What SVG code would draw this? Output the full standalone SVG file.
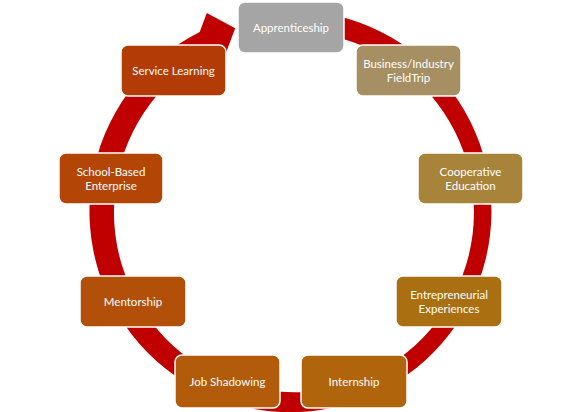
<svg xmlns="http://www.w3.org/2000/svg" width="582" height="412" viewBox="0 0 582 412">
<style>
.box{stroke:#ffffff;stroke-width:1.5}
.lbl{font-family:Lato,"Liberation Sans",sans-serif;font-size:11.5px;fill:#ffffff;text-anchor:middle}
</style>
<rect width="582" height="412" fill="#ffffff"/>
<g id="connectors">
<path d="M 324.2 13.1 A 201 201 0 1 1 199.7 31.9 L 206.8 12.9 L 235.2 28.3 L 223.9 58.4 L 214.8 50.6 A 180 180 0 1 0 322.3 34.5 Z" fill="#c00000"/>
</g>
<g id="n1"><rect class="box" x="238" y="2" width="106" height="51" rx="7" fill="#a5a5a5"/><text class="lbl" x="291" y="32">Apprenticeship</text></g>
<g id="n2"><rect class="box" x="356" y="45" width="105" height="51" rx="7" fill="#a68f63"/><text class="lbl" x="408.5" y="68">Business/Industry</text><text class="lbl" x="408.5" y="82">FieldTrip</text></g>
<g id="n3"><rect class="box" x="418" y="153" width="105" height="51" rx="7" fill="#a8833a"/><text class="lbl" x="470.5" y="176">Cooperative</text><text class="lbl" x="470.5" y="190">Education</text></g>
<g id="n4"><rect class="box" x="396" y="276" width="106" height="51" rx="7" fill="#a96f11"/><text class="lbl" x="449" y="299">Entrepreneurial</text><text class="lbl" x="449" y="313">Experiences</text></g>
<g id="n5"><rect class="box" x="301" y="355" width="106" height="53" rx="7" fill="#b0650c"/><text class="lbl" x="354" y="386">Internship</text></g>
<g id="n6"><rect class="box" x="175" y="355" width="105" height="53" rx="7" fill="#b25b0a"/><text class="lbl" x="227.5" y="386">Job Shadowing</text></g>
<g id="n7"><rect class="box" x="80" y="276" width="106" height="51" rx="7" fill="#b24f09"/><text class="lbl" x="133" y="306">Mentorship</text></g>
<g id="n8"><rect class="box" x="59" y="153" width="104" height="51" rx="7" fill="#b34507"/><text class="lbl" x="111" y="176">School-Based</text><text class="lbl" x="111" y="190">Enterprise</text></g>
<g id="n9"><rect class="box" x="121" y="45" width="105" height="51" rx="7" fill="#b33b05"/><text class="lbl" x="173.5" y="75">Service Learning</text></g>
</svg>
